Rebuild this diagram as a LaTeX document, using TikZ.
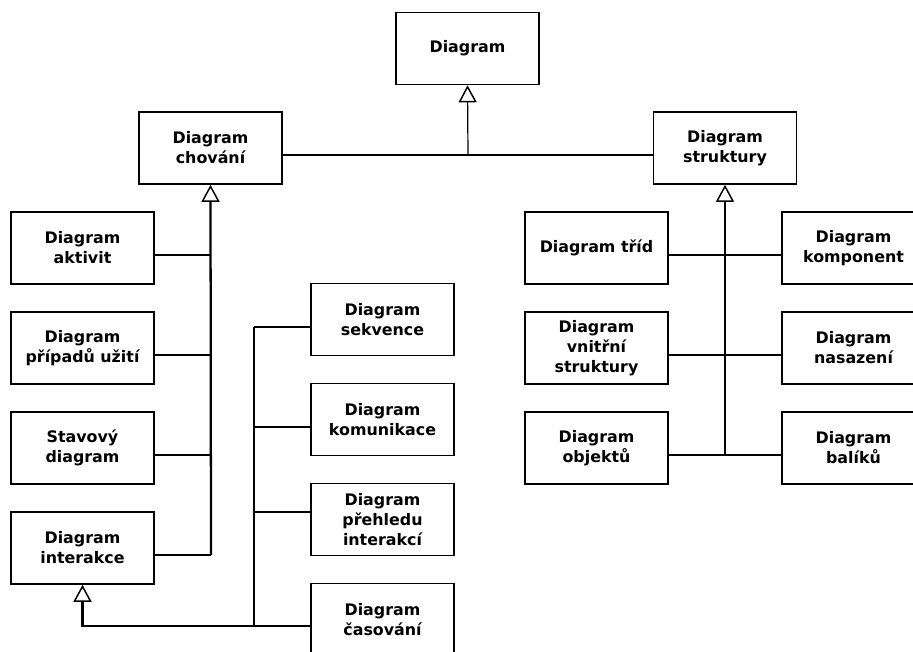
\documentclass[tikz,border=0pt]{standalone}
\usepackage{fontspec}
\setmainfont{DejaVu Sans}
\usetikzlibrary{arrows.meta}

\tikzset{
  box/.style={draw, line width=1.2pt, minimum width=107.25pt, minimum height=54pt, inner sep=0pt, align=center, font=\bfseries\fontsize{11.9}{15}\selectfont},
  link/.style={line width=0.9pt},
  trunk/.style={line width=1.7pt},
  gen/.style={-{Triangle[open, length=12.75pt, width=13.5pt, line width=1.1pt]}}
}

\begin{document}
\begin{tikzpicture}[x=0.75pt, y=-0.75pt]
        \useasboundingbox (0,0) rectangle (913,651);
        % Root and the two main branches
        \node[box] (diag) at (467.5,48.5) {Diagram};
        \node[box] (chov) at (210.5,148) {Diagram\\chování};
        \node[box] (strk) at (725,148) {Diagram\\struktury};

        % Behaviour diagrams
        \node[box] (aktiv) at (82.5,248) {Diagram\\aktivit};
        \node[box] (pripad) at (82.5,348) {Diagram\\případů užití};
        \node[box] (stav) at (82.5,448) {Stavový\\diagram};
        \node[box] (inter) at (82.5,548) {Diagram\\interakce};

        % Interaction diagrams
        \node[box] (sekv) at (382.5,319.5) {Diagram\\sekvence};
        \node[box] (komun) at (382.5,419.5) {Diagram\\komunikace};
        \node[box] (prehl) at (382.5,519.5) {Diagram\\přehledu\\interakcí};
        \node[box] (casov) at (382.5,619.5) {Diagram\\časování};

        % Structure diagrams
        \node[box] (trid) at (596.5,248) {Diagram tříd};
        \node[box] (vnitr) at (596.5,348) {Diagram\\vnitřní\\struktury};
        \node[box] (objekt) at (596.5,448) {Diagram\\objektů};
        \node[box] (kompon) at (853.5,248) {Diagram\\komponent};
        \node[box] (nasaz) at (853.5,348) {Diagram\\nasazení};
        \node[box] (balik) at (853.5,448) {Diagram\\balíků};

        % Junction points
        \coordinate (j0) at (468,155);
        \coordinate (jc) at (211,555);
        \coordinate (ji) at (254,626);
        \coordinate (js) at (725,455);

        % Top level
        \draw[link] (chov.east |- j0) -- (strk.west |- j0);
        \draw[link, gen] (j0) -- (diag.south);

        % Behaviour
        \draw[trunk, gen] (jc) -- (chov.south);
        \draw[link] (aktiv.east |- 0,255) -- (jc |- 0,255);
        \draw[link] (pripad.east |- 0,355) -- (jc |- 0,355);
        \draw[link] (stav.east |- 0,455) -- (jc |- 0,455);
        \draw[link] (inter.east |- jc) -- (jc);

        % Interaction
        \draw[trunk] (ji |- 0,327) -- (ji);
        \draw[trunk, gen] (ji) -| (inter.south);
        \draw[link] (sekv.west |- 0,327) -- (ji |- 0,327);
        \draw[link] (komun.west |- 0,427) -- (ji |- 0,427);
        \draw[link] (prehl.west |- 0,512) -- (ji |- 0,512);
        \draw[link] (casov.west |- ji) -- (ji);

        % Structure
        \draw[trunk, gen] (js) -- (strk.south);
        \draw[link] (trid.east |- 0,255) -- (kompon.west |- 0,255);
        \draw[link] (vnitr.east |- 0,355) -- (nasaz.west |- 0,355);
        \draw[link] (objekt.east |- js) -- (balik.west |- js);
\end{tikzpicture}
\end{document}
